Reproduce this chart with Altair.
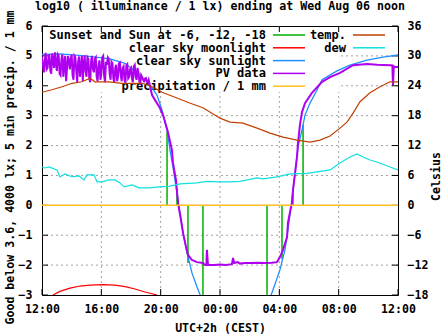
import altair as alt
import pandas as pd

W, H = 356, 269
FONT = "DejaVu Sans Mono"
FS = 11.6
KFS = 12

# ---------------- data (hours after 12:00 CEST, log10 lx / Celsius) ----------------
pv_noise_v = [4.95, 4.45, 5.10, 4.60, 5.05, 4.40, 4.90, 5.12, 4.50, 5.00,
              4.35, 5.05, 4.75, 4.15, 5.00, 4.55, 5.05, 4.20, 4.95, 4.12,
              4.98, 4.60, 4.15, 5.02, 4.30, 4.90, 4.12, 5.00, 4.45, 4.95,
              4.15, 4.85, 4.40, 5.00, 4.12, 4.70, 4.90, 4.20, 4.75, 4.10,
              4.70, 4.30, 4.78, 4.15, 4.65, 4.10, 4.72, 4.30, 4.60, 4.12,
              4.70, 4.20, 4.45, 4.10, 4.28, 4.15, 4.26, 4.12, 4.05]
pv_noise_h = [i * 0.125 for i in range(len(pv_noise_v))]
pv_mid_v = [4.70, 4.85, 4.55, 4.95, 4.50, 5.08, 4.60, 4.75, 5.05, 4.40,
            4.90, 4.30, 5.00, 4.60, 4.85, 4.90, 4.35, 5.00, 4.50, 4.80,
            4.30, 5.00, 4.70, 4.50, 4.95, 4.25, 4.85, 4.55, 4.90, 4.30,
            4.70, 4.20, 4.95, 4.35, 4.80, 4.95, 4.40, 4.80, 4.25, 4.60,
            4.15, 4.75, 4.35, 4.60, 4.20, 4.68, 4.25, 4.55, 4.25, 4.65,
            4.30, 4.60, 4.15, 4.35, 4.20, 4.24, 4.14, 4.20]
pv_mid_h = [0.0625 + i * 0.125 for i in range(len(pv_mid_v))]
pv_rest_h = [7.42, 7.62, 7.90, 8.16, 8.49, 8.76, 8.83, 9.03, 9.17, 9.37, 9.51, 9.71,
             9.84, 10.11, 10.45, 10.85, 10.99, 11.08, 11.12, 11.19, 11.6, 12.0, 12.4,
             12.8, 12.88, 12.95, 13.2, 13.35, 13.7, 14.0, 14.5, 15.0, 15.5, 15.84,
             16.04, 16.25, 16.52, 16.58, 16.72, 16.85, 16.92, 17.06, 17.19, 17.26,
             17.39, 17.53, 17.73, 18.2, 18.88, 19.42, 20.09, 20.97, 21.91, 22.6,
             23.46, 23.62, 23.66, 23.72, 23.8, 24.0]
pv_rest_v = [3.69, 3.52, 3.30, 3.02, 2.45, 1.85, 1.42, 0.85, 0.08, -0.49, -0.93, -1.39,
             -1.66, -1.83, -1.90, -1.93, -2.00, -2.00, -1.49, -2.00, -2.00, -1.98, -2.00,
             -1.97, -1.76, -1.93, -1.90, -1.95, -1.93, -1.93, -1.92, -1.93, -1.92, -1.90,
             -1.73, -1.49, -1.06, -0.59, -0.22, 0.08, 0.51, 1.08, 1.62, 2.09,
             2.69, 3.12, 3.42, 3.76, 4.13, 4.29, 4.43, 4.69, 4.73, 4.70,
             4.69, 4.68, 4.03, 4.65, 4.63, 4.63]

sun_h = [0.0, 1.21, 2.9, 4.58, 5.6, 6.61, 7.28, 7.75, 8.09, 8.43, 8.63, 8.83, 9.17,
         9.51, 9.78, 10.11, 10.45, 10.72, 11.2, 15.0, 15.57, 16.04, 16.38, 16.58,
         16.85, 17.06, 17.26, 17.53, 17.73, 18.07, 18.54, 18.88, 19.89, 20.76,
         21.91, 22.99, 24.0]
sun_v = [5.05, 5.07, 5.00, 4.90, 4.75, 4.36, 4.03, 3.69, 3.19, 2.52, 1.85, 1.28, 0.18,
         -0.93, -1.60, -2.26, -2.73, -3.07, -3.6, -3.6, -2.83, -2.16, -1.49, -0.83,
         0.18, 1.08, 1.95, 2.52, 3.02, 3.42, 3.86, 4.20, 4.50, 4.69,
         4.86, 4.96, 5.03]

moon_h = [0.74, 1.21, 1.89, 2.56, 3.24, 4.11, 4.92, 5.6, 6.27, 6.94, 7.75]
moon_v = [-3.0, -2.88, -2.77, -2.70, -2.67, -2.65, -2.67, -2.72, -2.80, -2.90, -3.0]

sunev_h = [8.43, 9.10, 9.84, 10.85, 15.17, 16.18, 16.92, 17.60]
sunev_v = [2.45, 0.55, -1.93, -3.5, -3.5, -1.80, 0.40, 2.70]

precip_h = [0.0, 24.0]
precip_v = [0.0, 0.0]

temp_h = [0.0, 0.67, 1.35, 2.02, 2.7, 3.24, 3.57, 4.52, 5.39, 6.27, 6.74, 7.42, 8.09,
          8.97, 9.91, 10.85, 12.0, 12.67, 13.55, 14.5, 15.37, 16.25, 17.19, 18.07,
          18.74, 19.42, 20.09, 20.56, 20.97, 21.44, 22.11, 22.79, 23.26, 23.46, 24.0]
temp_c = [22.7, 23.2, 23.8, 24.5, 24.8, 25.5, 24.8, 24.8, 24.5, 24.5, 24.5, 23.8, 22.7,
          21.7, 20.6, 19.6, 17.5, 16.7, 16.5, 15.5, 14.5, 13.7, 13.1, 12.7,
          13.1, 13.9, 15.5, 16.7, 18.5, 20.8, 22.6, 23.8, 24.5, 24.8, 24.8]

dew_h = [0.0, 0.2, 0.47, 1.01, 1.21, 1.55, 2.02, 2.49, 2.83, 3.03, 3.51, 3.71, 4.04,
         4.52, 4.92, 5.26, 5.53, 6.07, 6.54, 7.21, 7.89, 8.56, 9.3, 10.45, 11.12,
         12.0, 12.67, 13.35, 14.49, 14.9, 15.84, 16.72, 17.87, 18.54, 19.42, 20.09,
         20.76, 21.24, 21.64, 22.11, 22.58, 23.46, 24.0]
dew_c = [7.7, 7.5, 7.7, 7.1, 5.7, 6.3, 5.7, 5.9, 5.1, 6.1, 6.1, 4.7, 4.7,
         5.1, 5.1, 4.5, 3.7, 4.1, 3.5, 3.5, 3.7, 3.8, 4.3, 4.5, 4.8,
         4.7, 4.7, 4.8, 5.5, 5.3, 5.7, 6.3, 6.4, 6.7, 7.1, 8.5,
         9.7, 10.3, 9.7, 9.1, 8.7, 7.7, 7.1]

x_major = [0, 4, 8, 12, 16, 20, 24]
x_grid = [4, 8, 12, 16, 20]
y_ticks = [-3, -2, -1, 0, 1, 2, 3, 4, 5, 6]
y_grid = [-2, -1, 1, 2, 3, 4, 5]
c_ticks = [-18, -12, -6, 0, 6, 12, 18, 24, 30, 36]

title_text = "log10 ( illuminance / 1 lx) ending at Wed Aug 06 noon"
ylabel = "Good below 3.6, 4000 lx; 5 min precip. / 1 mm"
y2label = "Celsius"
xlabel = "UTC+2h (CEST)"

key_labels = ["Sunset and Sun at -6, -12, -18", "clear sky moonlight",
              "clear sky sunlight", "PV data", "precipitation / 1 mm"]
key_colors = ["#00b000", "#ff0000", "#1e8fff", "#b000f0", "#ffc020"]
key2_labels = ["temp.", "dew"]
key2_colors = ["#c04000", "#10e0e0"]

# ---------------- encodings ----------------
xs = alt.Scale(domain=[0, 24], nice=False, zero=False)
ys = alt.Scale(domain=[-3, 6], nice=False, zero=False)
cs = alt.Scale(domain=[-18, 36], nice=False, zero=False)

lab = dict(labelFont=FONT, labelFontSize=FS, labelFontWeight="bold", labelColor="black",
           titleFont=FONT, titleFontSize=FS, titleFontWeight="bold", titleColor="black",
           ticks=False, domain=False, grid=False)

X = alt.X("h:Q", scale=xs, axis=alt.Axis(values=x_major, title=xlabel, labelFlush=False,
          labelOverlap=False, labelPadding=8,
          labelExpr="format((12 + datum.value) % 24, '02d') + ':00'",
          titleBaseline="alphabetic", titleY=36, **lab))
Y = alt.Y("v:Q", scale=ys, axis=alt.Axis(values=y_ticks, title=ylabel, orient="left",
          labelPadding=10, titleAngle=270, titleBaseline="alphabetic",
          titleX=-29, titleY=141, **lab))
C = alt.Y("c:Q", scale=cs, axis=alt.Axis(values=c_ticks, title=y2label, orient="right",
          labelPadding=9, titleAngle=270, titleBaseline="alphabetic",
          titleX=41, titleY=150, **lab))

def df(h, v, col="v"):
    return pd.DataFrame({"h": h, col: v})

one = pd.DataFrame({"a": [0]})

# grid
grid_x = alt.Chart(pd.DataFrame({"h": x_grid})).mark_rule(
    color="#a0a0a0", strokeWidth=1, strokeDash=[2, 3]).encode(x=X)
grid_y = alt.Chart(pd.DataFrame({"v": y_grid})).mark_rule(
    color="#a0a0a0", strokeWidth=1, strokeDash=[2, 3]).encode(y=Y)

# inner ticks
tick_l = alt.Chart(pd.DataFrame({"v": y_ticks})).mark_rule(color="black").encode(
    y=Y, x=alt.value(0), x2=alt.value(6))
tick_r = alt.Chart(pd.DataFrame({"v": y_ticks})).mark_rule(color="black").encode(
    y=Y, x=alt.value(W - 6), x2=alt.value(W))
tick_b = alt.Chart(pd.DataFrame({"h": x_major})).mark_rule(color="black").encode(
    x=X, y=alt.value(H - 6), y2=alt.value(H))
tick_t = alt.Chart(pd.DataFrame({"h": x_major})).mark_rule(color="black").encode(
    x=X, y=alt.value(0), y2=alt.value(6))

# key box + key entries
key_box = alt.Chart(one).mark_rect(fill="white").encode(
    x=alt.value(1), x2=alt.value(297), y=alt.value(1), y2=alt.value(66))

key_layers = []
row_y = [9 + 12.8 * i for i in range(5)]
for i, (t, c) in enumerate(zip(key_labels, key_colors)):
    key_layers.append(alt.Chart(pd.DataFrame({"t": [t]})).mark_text(
        font=FONT, fontSize=KFS, fontWeight="bold", align="right", baseline="middle",
        color="black").encode(x=alt.value(224), y=alt.value(row_y[i]), text="t:N"))
    key_layers.append(alt.Chart(one).mark_rule(color=c, strokeWidth=1.5).encode(
        x=alt.value(231), x2=alt.value(263), y=alt.value(row_y[i])))
for i, (t, c) in enumerate(zip(key2_labels, key2_colors)):
    key_layers.append(alt.Chart(pd.DataFrame({"t": [t]})).mark_text(
        font=FONT, fontSize=KFS, fontWeight="bold", align="right", baseline="middle",
        color="black").encode(x=alt.value(304), y=alt.value(row_y[i]), text="t:N"))
    key_layers.append(alt.Chart(one).mark_rule(color=c, strokeWidth=1.5).encode(
        x=alt.value(311), x2=alt.value(343), y=alt.value(row_y[i])))

title = alt.Chart(pd.DataFrame({"t": [title_text]})).mark_text(
    font=FONT, fontSize=FS, fontWeight="bold", align="center", baseline="alphabetic",
    color="black").encode(x=alt.value(W / 2), y=alt.value(-16), text="t:N")

# data layers
pv_df = pd.concat([df(pv_noise_h, pv_noise_v), df(pv_mid_h, pv_mid_v),
                   df(pv_rest_h, pv_rest_v)]).sort_values("h")

sunev = alt.Chart(pd.DataFrame({"h": sunev_h, "v": sunev_v, "z": [0.0] * len(sunev_h)})).mark_rule(
    color=key_colors[0], strokeWidth=1.5, clip=True).encode(x=X, y=Y, y2="z:Q")
moon = alt.Chart(df(moon_h, moon_v)).mark_line(color=key_colors[1], strokeWidth=1.2,
                                               clip=True).encode(x=X, y=Y)
sun = alt.Chart(df(sun_h, sun_v)).mark_line(color=key_colors[2], strokeWidth=1.3,
                                            clip=True).encode(x=X, y=Y)
pv = alt.Chart(pv_df).mark_line(color=key_colors[3], strokeWidth=2, clip=True).encode(
    x=X, y=Y, order="h:Q")
precip = alt.Chart(df(precip_h, precip_v)).mark_line(color=key_colors[4], strokeWidth=1.5,
                                                     clip=True).encode(x=X, y=Y)
temp = alt.Chart(df(temp_h, temp_c, "c")).mark_line(color=key2_colors[0], strokeWidth=1.2,
                                                     clip=True).encode(x=X, y=C)
dew = alt.Chart(df(dew_h, dew_c, "c")).mark_line(color=key2_colors[1], strokeWidth=1.2,
                                                  clip=True).encode(x=X, y=C)

left = alt.layer(grid_x, grid_y, key_box, *key_layers, tick_l, tick_r, tick_b, tick_t,
                 title, sunev, moon, sun, pv, precip)
right = alt.layer(temp, dew)

chart = alt.layer(left, right).resolve_scale(y="independent").properties(
    width=W, height=H,
    autosize=alt.AutoSizeParams(type="none"),
    padding={"left": 42, "top": 26, "right": 49, "bottom": 40},
    background="white",
).configure_view(stroke="black", strokeWidth=1)

chart.save("out.html", embed_options={"renderer": "svg", "actions": False})
